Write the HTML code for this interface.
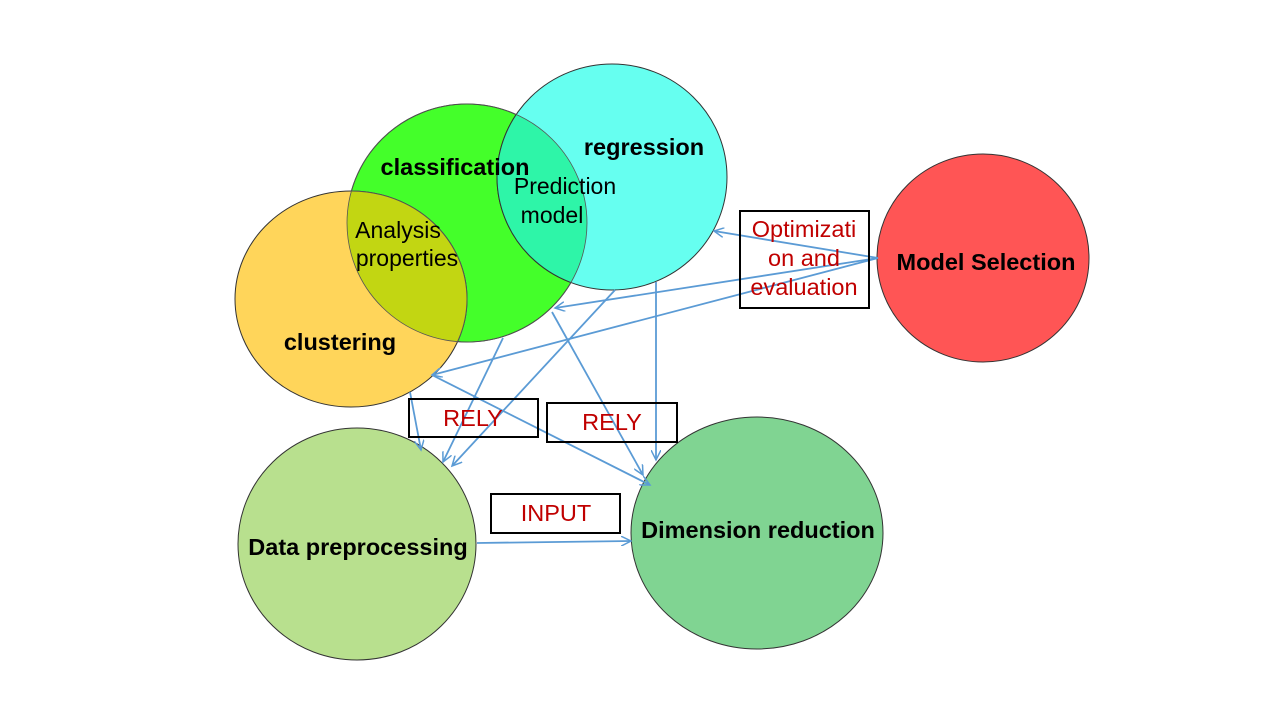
<!DOCTYPE html>
<html><head><meta charset="utf-8"><style>
html,body{margin:0;padding:0;background:#fff;}
svg{display:block;font-family:"Liberation Sans",Arial,sans-serif;}
</style></head><body>
<svg width="1280" height="720" viewBox="0 0 1280 720">
<defs>
<marker id="ah" markerWidth="12" markerHeight="10" refX="10" refY="5" orient="auto" markerUnits="userSpaceOnUse">
<path d="M0,0 L10,5 L0,10" fill="none" stroke="#5B9BD5" stroke-width="1.5"/>
</marker>
<clipPath id="clsClip"><ellipse cx="467" cy="223" rx="120" ry="119"/></clipPath>
</defs>

<ellipse cx="467" cy="223" rx="120" ry="119" fill="#44FF2A" stroke="#333" stroke-width="1"/>
<ellipse cx="612" cy="177" rx="115" ry="113" fill="#66FFF0" stroke="#333" stroke-width="1"/>
<ellipse cx="351" cy="299" rx="116" ry="108" fill="#FFD55A" stroke="#333" stroke-width="1"/>
<g clip-path="url(#clsClip)">
<ellipse cx="612" cy="177" rx="115" ry="113" fill="#2EF5A8" stroke="#333" stroke-width="1"/>
<ellipse cx="351" cy="299" rx="116" ry="108" fill="#C2D612" stroke="#555" stroke-width="1"/>
</g>
<ellipse cx="467" cy="223" rx="120" ry="119" fill="none" stroke="#555" stroke-width="0.8"/>
<ellipse cx="983" cy="258" rx="106" ry="104" fill="#FF5555" stroke="#333" stroke-width="1"/>
<ellipse cx="357" cy="544" rx="119" ry="116" fill="#B8E08E" stroke="#333" stroke-width="1"/>
<ellipse cx="757" cy="533" rx="126" ry="116" fill="#80D492" stroke="#333" stroke-width="1"/>

<g stroke="#5B9BD5" stroke-width="1.8" fill="none" marker-end="url(#ah)">
<line x1="878" y1="258" x2="714" y2="231"/>
<line x1="878" y1="258" x2="555" y2="308"/>
<line x1="878" y1="258" x2="432" y2="375"/>
<line x1="432" y1="375" x2="650" y2="485"/>
<line x1="503" y1="338" x2="443" y2="462"/>
<line x1="615" y1="290" x2="452" y2="466"/>
<line x1="552" y1="312" x2="643" y2="475"/>
<line x1="656" y1="282" x2="656" y2="460"/>
<line x1="410" y1="392" x2="421" y2="450"/>
<line x1="477" y1="543" x2="631" y2="541"/>
</g>

<g fill="none" stroke="#000" stroke-width="2">
<rect x="740" y="211" width="129" height="97"/>
<rect x="409" y="399" width="129" height="38"/>
<rect x="547" y="403" width="130" height="39"/>
<rect x="491" y="494" width="129" height="39"/>
</g>

<g font-size="23.5" fill="#C00000" text-anchor="middle">
<text x="804" y="237">Optimizati</text>
<text x="804" y="266">on and</text>
<text x="804" y="295">evaluation</text>
<text x="473" y="426">RELY</text>
<text x="612" y="430">RELY</text>
<text x="556" y="521">INPUT</text>
</g>

<g font-size="23.5" font-weight="bold" fill="#000" text-anchor="middle">
<text x="455" y="175">classification</text>
<text x="644" y="155">regression</text>
<text x="340" y="350">clustering</text>
<text x="986" y="270">Model Selection</text>
<text x="358" y="555">Data preprocessing</text>
<text x="758" y="538">Dimension reduction</text>
</g>
<g font-size="23" fill="#000" text-anchor="middle">
<text x="565" y="194">Prediction</text>
<text x="552" y="223">model</text>
<text x="398" y="238">Analysis</text>
<text x="407" y="266">properties</text>
</g>
</svg>
</body></html>
